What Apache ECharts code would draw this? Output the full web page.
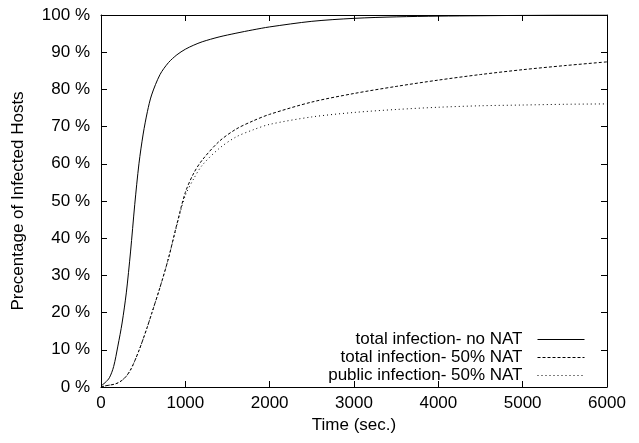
<!DOCTYPE html>
<html>
<head>
<meta charset="utf-8">
<script src="https://cdn.jsdelivr.net/npm/echarts@6/dist/echarts.min.js"></script>
<style>
  html, body { margin: 0; padding: 0; background: #fff; }
  #chart { width: 639px; height: 443px; }
</style>
</head>
<body>
<div id="chart"></div>
<script>
// time in seconds
const timeSec = [0, 50, 100, 150, 200, 250, 300, 350, 400, 450, 500, 550, 600, 700, 800, 900,
    1000, 1100, 1200, 1400, 1600, 1800, 2000, 2500, 3000, 3500, 4000, 4500, 5000, 5500, 6000];

// percentage of infected hosts
const totalNoNat = [0.3, 1.2, 2.5, 5.5, 11, 17.2, 25.3, 36.3, 49, 60, 68, 74, 78.5, 84, 87.2, 89.3,
    90.8, 91.9, 92.8, 94.1, 95.1, 96, 96.8, 98.3, 99.1, 99.5, 99.7, 99.8, 99.9, 100, 100];
const total50Nat = [0, 0.3, 0.5, 0.7, 1.1, 1.8, 2.9, 4.6, 7, 9.8, 12.9, 16.2, 19.7, 26.8, 34.6, 43.8,
    52.3, 57.5, 61, 66, 69.3, 71.5, 73.3, 76.6, 78.9, 80.8, 82.5, 84, 85.3, 86.4, 87.4];
const public50Nat = [0, 0.3, 0.5, 0.7, 1.1, 1.8, 2.9, 4.6, 7, 9.8, 12.9, 16.2, 19.7, 26.8, 34.6, 43.5,
    51.5, 56, 59.6, 64.1, 67.2, 69.1, 70.6, 72.6, 73.8, 74.6, 75.2, 75.6, 75.8, 76, 76.1];

const seriesNames = ['total infection- no NAT', 'total infection- 50% NAT', 'public infection- 50% NAT'];

const font = 'Liberation Sans, Arial, Helvetica, sans-serif';
const pairs = vals => timeSec.map((t, i) => [t, vals[i]]);

const chart = echarts.init(document.getElementById('chart'));

const baseX = {
    type: 'value',
    min: 0,
    max: 6000,
    interval: 1000,
    splitLine: { show: false },
    axisLine: { show: true, onZero: false, lineStyle: { color: '#000', width: 1 } },
    axisTick: { show: true, inside: true, length: 6, lineStyle: { color: '#000' } }
};
const baseY = {
    type: 'value',
    min: 0,
    max: 100,
    interval: 10,
    splitLine: { show: false },
    axisLine: { show: true, onZero: false, lineStyle: { color: '#000', width: 1 } },
    axisTick: { show: true, inside: true, length: 6, lineStyle: { color: '#000' } }
};

const lineSeries = (name, vals, dash) => ({
    name: name,
    type: 'line',
    data: pairs(vals),
    smooth: 0.3,
    symbol: 'none',
    color: '#000',
    lineStyle: { color: '#000', width: 1, type: dash }
});

const option = {
    animation: false,
    backgroundColor: '#fff',
    textStyle: { fontFamily: font, color: '#000' },
    grid: { left: 101, right: 32, top: 15, bottom: 56 },
    legend: {
        data: seriesNames,
        orient: 'vertical',
        align: 'right',
        right: 54,
        top: 331,
        itemWidth: 47,
        itemHeight: 14,
        itemGap: 1,
        padding: 0,
        itemStyle: { opacity: 0 },
        lineStyle: { width: 1 },
        textStyle: { fontSize: 17, color: '#000', fontFamily: font, padding: [0, 10, 0, 0] }
    },
    xAxis: [
        Object.assign({}, baseX, {
            position: 'bottom',
            name: 'Time (sec.)',
            nameLocation: 'middle',
            nameGap: 28,
            nameTextStyle: { fontSize: 17, color: '#000' },
            axisLabel: { fontSize: 17, color: '#000', margin: 8, formatter: v => String(v) }
        }),
        Object.assign({}, baseX, { position: 'top', axisLabel: { show: false } })
    ],
    yAxis: [
        Object.assign({}, baseY, {
            position: 'left',
            name: 'Precentage of Infected Hosts',
            nameLocation: 'middle',
            nameGap: 74,
            nameTextStyle: { fontSize: 17, color: '#000' },
            axisLabel: { fontSize: 17, color: '#000', margin: 11, formatter: '{value} %' }
        }),
        Object.assign({}, baseY, { position: 'right', axisLabel: { show: false } })
    ],
    series: [
        lineSeries(seriesNames[0], totalNoNat, 'solid'),
        lineSeries(seriesNames[1], total50Nat, [3, 2]),
        lineSeries(seriesNames[2], public50Nat, [1, 3])
    ]
};

chart.setOption(option);
window.addEventListener('resize', () => {
    chart.resize();
});
</script>
</body>
</html>
